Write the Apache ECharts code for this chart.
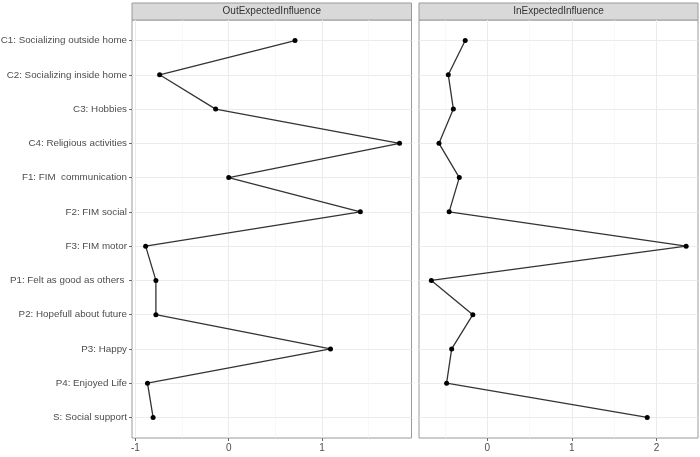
<!DOCTYPE html>
<html>
<head>
<meta charset="utf-8">
<script src="https://cdn.jsdelivr.net/npm/echarts@6/dist/echarts.min.js"></script>
<style>
html,body{margin:0;padding:0;background:#fff;}
#chart{width:700px;height:457px;}
</style>
</head>
<body>
<div id="chart"></div>
<script>
const categories = [
  'C1: Socializing outside home',
  'C2: Socializing inside home',
  'C3: Hobbies',
  'C4: Religious activities',
  'F1: FIM  communication',
  'F2: FIM social',
  'F3: FIM motor',
  'P1: Felt as good as others ',
  'P2: Hopefull about future',
  'P3: Happy',
  'P4: Enjoyed Life',
  'S: Social support'
];
const outExpected = [0.71, -0.74, -0.14, 1.83, 0.00, 1.41, -0.89, -0.78, -0.78, 1.09, -0.87, -0.81];
const inExpected  = [-0.26, -0.46, -0.40, -0.57, -0.33, -0.45, 2.35, -0.66, -0.17, -0.42, -0.48, 1.89];
const panelTitles = ['OutExpectedInfluence', 'InExpectedInfluence'];
const outMajorTicks = [-1, 0, 1];
const outMinorTicks = [-0.5, 0.5, 1.5];
const inMajorTicks = [0, 1, 2];
const inMinorTicks = [-0.5, 0.5, 1.5];

const chart = echarts.init(document.getElementById('chart'), null, {renderer: 'canvas'});
const idx = categories.map((c, i) => i);
const FONT = 'Liberation Sans, Arial, sans-serif';
const TEXT = '#4d4d4d';
const BORDER = '#9a9a9a';

const panels = [
  {left: 132, width: 279.5, min: -1.036, max: 1.958, major: outMajorTicks, minor: outMinorTicks, data: outExpected, labels: true},
  {left: 419, width: 279, min: -0.806, max: 2.49, major: inMajorTicks, minor: inMinorTicks, data: inExpected, labels: false}
];

const grid = [], xAxis = [], yAxis = [], series = [], graphic = [];
panels.forEach((p, g) => {
  grid.push({left: p.left, top: 20, width: p.width, height: 418, show: true,
    borderColor: BORDER, borderWidth: 1, backgroundColor: '#fff',
    containLabel: false, outerBoundsMode: 'none'});
  // minor vertical grid lines
  xAxis.push({type: 'value', gridIndex: g, min: p.min, max: p.max, position: 'bottom',
    axisLine: {show: false, onZero: false}, axisLabel: {show: false, customValues: p.minor},
    axisTick: {show: false, customValues: p.minor},
    splitLine: {show: true, lineStyle: {color: '#f4f4f4', width: 0.6}}});
  // major axis
  xAxis.push({type: 'value', gridIndex: g, min: p.min, max: p.max, position: 'bottom',
    axisLine: {show: false, onZero: false},
    axisTick: {show: true, length: 3, customValues: p.major, lineStyle: {color: '#666', width: 1}},
    axisLabel: {show: true, customValues: p.major, margin: 5, color: TEXT, fontSize: 10, fontFamily: FONT},
    splitLine: {show: true, lineStyle: {color: '#ebebeb', width: 1}}});
  yAxis.push({type: 'value', gridIndex: g, inverse: true, min: -0.6, max: 11.6, position: 'left',
    axisLine: {show: false, onZero: false},
    axisTick: {show: p.labels, length: 3, customValues: idx, lineStyle: {color: '#666', width: 1}},
    axisLabel: {show: p.labels, customValues: idx, margin: 5, color: TEXT, fontSize: 9.8, fontFamily: FONT,
      formatter: v => categories[Math.round(v)]},
    splitLine: {show: true, lineStyle: {color: '#ebebeb', width: 1}}});
  series.push({type: 'line', xAxisIndex: g * 2 + 1, yAxisIndex: g,
    data: p.data.map((v, i) => [v, i]),
    symbol: 'circle', symbolSize: 5, showSymbol: true, clip: false,
    itemStyle: {color: '#000'}, lineStyle: {color: '#333', width: 1.3},
    animation: false, silent: true});
  graphic.push({type: 'rect', shape: {x: p.left, y: 3, width: p.width, height: 17},
    style: {fill: '#d9d9d9', stroke: BORDER, lineWidth: 1}});
  graphic.push({type: 'text', x: p.left + p.width / 2, y: 11.5,
    style: {text: panelTitles[g], fill: '#333', font: '10px ' + FONT, textAlign: 'center', textVerticalAlign: 'middle'}});
});

chart.setOption({animation: false, grid, xAxis, yAxis, series, graphic});
</script>
</body>
</html>
